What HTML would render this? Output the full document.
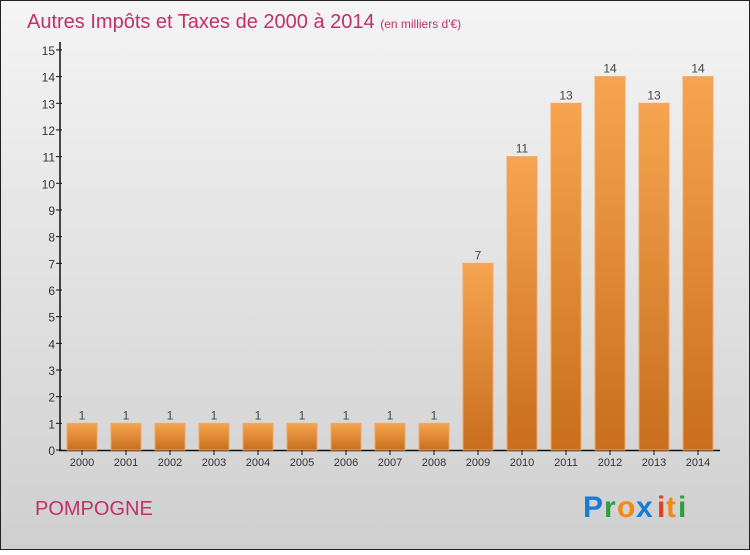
<!DOCTYPE html>
<html><head><meta charset="utf-8"><style>
body{margin:0}
svg text{font-family:"Liberation Sans",sans-serif}
</style></head><body>
<svg width="750" height="550" xmlns="http://www.w3.org/2000/svg">
<defs>
<linearGradient id="bg" x1="0" y1="0" x2="0" y2="1"><stop offset="0" stop-color="#f4f4f4"/><stop offset="1" stop-color="#cfcfcf"/></linearGradient>
<linearGradient id="bar" x1="0" y1="0" x2="0" y2="1"><stop offset="0" stop-color="#f6a44f"/><stop offset="1" stop-color="#c86e1c"/></linearGradient>
</defs>
<rect x="0.5" y="0.5" width="749" height="549" fill="url(#bg)" stroke="#222"/>
<text x="27" y="28" font-size="20" fill="#c0306a">Autres Impôts et Taxes de 2000 à 2014 <tspan font-size="12">(en milliers d'€)</tspan></text>
<g id="yaxis"></g><g id="bars"></g>
<text x="35" y="515" font-size="20" fill="#c0306a">POMPOGNE</text>
<g font-size="30" font-weight="bold">
<text x="583" y="517" fill="#1a7bd6">P</text><text x="604" y="517" fill="#2aa040">r</text><text x="617" y="517" fill="#f08a10">o</text><text x="636" y="517" fill="#1a7bd6">x</text><text x="657" y="517" fill="#e04020">i</text><text x="666" y="517" fill="#f08a10">t</text><text x="678" y="517" fill="#2aa040">i</text>
</g>
</svg>
<script>
const years=["2000","2001","2002","2003","2004","2005","2006","2007","2008","2009","2010","2011","2012","2013","2014"];
const values=[1,1,1,1,1,1,1,1,1,7,11,13,14,13,14];
const yTicks=[0,1,2,3,4,5,6,7,8,9,10,11,12,13,14,15];
const NS="http://www.w3.org/2000/svg";
const y=v=>450-v*26.67, x=i=>82+i*44;
const ya=document.getElementById('yaxis'), bg=document.getElementById('bars');
function mk(t,a,p,txt){const e=document.createElementNS(NS,t);for(const k in a)e.setAttribute(k,a[k]);if(txt!==undefined)e.textContent=txt;p.appendChild(e);return e;}
let l=mk('line',{x1:60,y1:42,x2:60,y2:451,stroke:'#111','stroke-width':1.5},ya);


l=mk('line',{x1:59,y1:450.5,x2:720,y2:450.5,stroke:'#111','stroke-width':1.5},ya);


yTicks.forEach(t=>{
 mk('line',{x1:56,y1:y(t),x2:62,y2:y(t),stroke:'#111'},ya);
 const e=mk('text',{x:55,y:y(t)+5,'font-size':12,fill:'#333','text-anchor':'end'},ya,t);
 
 
});
values.forEach((v,i)=>{
 const r=mk('rect',{x:x(i)-15,y:y(v),width:30,height:450-y(v),fill:'url(#bar)',stroke:'#f0a868','stroke-width':1},bg);
 
 
 let e=mk('text',{x:x(i),y:y(v)-4,'font-size':12,fill:'#444','text-anchor':'middle'},bg,v);
 
 
 mk('line',{x1:x(i),y1:450,x2:x(i),y2:455,stroke:'#111'},bg);
 e=mk('text',{x:x(i),y:466,'font-size':11,fill:'#333','text-anchor':'middle'},bg,years[i]);
 
 
});
</script>
</body></html>
